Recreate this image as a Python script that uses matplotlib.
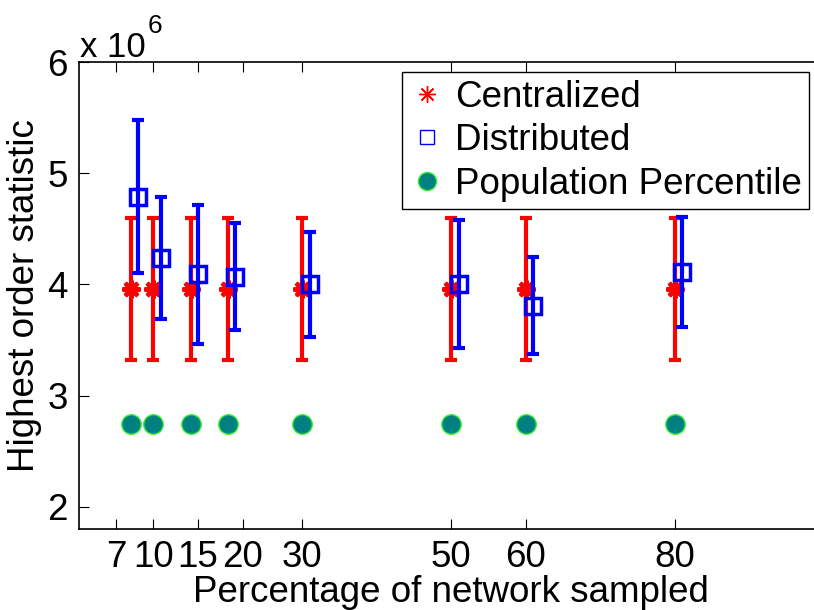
import matplotlib
matplotlib.use("Agg")
import matplotlib.pyplot as plt

plt.rcParams['font.family'] = ['Liberation Sans', 'DejaVu Sans']

# data
x_central = [7, 10, 15, 20, 30, 50, 60, 80]
y_central = [3.96, 3.96, 3.96, 3.96, 3.96, 3.96, 3.96, 3.96]
err_central = [0.64, 0.64, 0.64, 0.64, 0.64, 0.64, 0.64, 0.64]

x_distrib = [8, 11, 16, 21, 31, 51, 61, 81]
y_distrib = [4.79, 4.24, 4.09, 4.07, 4.00, 4.00, 3.81, 4.11]
err_distrib = [0.69, 0.55, 0.625, 0.48, 0.475, 0.575, 0.44, 0.495]

x_pop = [7, 10, 15, 20, 30, 50, 60, 80]
y_pop = [2.74, 2.74, 2.74, 2.74, 2.74, 2.74, 2.74, 2.74]

tick_pos = [5, 10, 16, 22, 30, 50, 60, 80]
tick_labels = ['7', '10', '15', '20', '30', '50', '60', '80']
ytick_vals = [2, 3, 4, 5, 6]

FS = 26.5
W, H = 814, 610
fig = plt.figure(figsize=(W / 100, H / 100), dpi=100)
left, right = 78.8, 78.8 + 745
top, bottom = 62, 529
ax = fig.add_axes([left / W, 1 - bottom / H, (right - left) / W, (bottom - top) / H])

asterisk = (8, 2, 0)
ax.errorbar(x_central, y_central, yerr=err_central, fmt='none', ecolor='red',
            elinewidth=3, capsize=4, capthick=3, zorder=2)
hc, = ax.plot(x_central, y_central, linestyle='none', marker=asterisk, color='red',
              markersize=13, markeredgewidth=3, zorder=3)
ax.errorbar(x_distrib, y_distrib, yerr=err_distrib, fmt='none', ecolor='blue',
            elinewidth=3, capsize=4, capthick=3, zorder=4)
hd, = ax.plot(x_distrib, y_distrib, linestyle='none', marker='s', markersize=12,
              markerfacecolor='none', markeredgecolor='blue', markeredgewidth=2.5, zorder=5)
hp, = ax.plot(x_pop, y_pop, linestyle='none', marker='o', markersize=14,
              markerfacecolor='#008080', markeredgecolor='#33ee33', markeredgewidth=1, zorder=3)

ax.set_xlim(0, 100)
ax.set_ylim(1.8, 6)
ax.set_xticks(tick_pos)
ax.set_xticklabels(tick_labels)
ax.set_yticks(ytick_vals)
ax.set_yticklabels([str(v) for v in ytick_vals])
ax.tick_params(direction='in', length=7, width=0.8, top=True, right=True,
               labelsize=FS, pad=8)
for s in ax.spines.values():
    s.set_linewidth(1.2)

ax.set_xlabel('Percentage of network sampled', fontsize=FS, labelpad=0)
ax.set_ylabel('Highest order statistic', fontsize=FS, labelpad=4)

fig.text(80 / W, 1 - 57 / H, 'x 10', fontsize=25, ha='left', va='baseline')
fig.text(148 / W, 1 - 33 / H, '6', fontsize=19, ha='left', va='baseline')

# legend handles with smaller markers
lc, = ax.plot([], [], linestyle='none', marker=asterisk, color='red', markersize=12, markeredgewidth=1)
ld, = ax.plot([], [], linestyle='none', marker='s', markersize=10, markerfacecolor='none',
              markeredgecolor='blue', markeredgewidth=1)
lp, = ax.plot([], [], linestyle='none', marker='o', markersize=13, markerfacecolor='#008080',
              markeredgecolor='#33ee33', markeredgewidth=1)
leg = fig.legend([lc, ld, lp], ['Centralized', 'Distributed', 'Population Percentile'],
                 loc='upper left', bbox_to_anchor=(401.7 / W, 1 - 72.3 / H),
                 fontsize=FS, frameon=True, fancybox=False, edgecolor='black',
                 borderpad=0.2, labelspacing=0.23, handlelength=1.0, handletextpad=0.25,
                 borderaxespad=0, framealpha=1)
leg.get_frame().set_linewidth(1.0)

fig.savefig('out.png', dpi=100)
